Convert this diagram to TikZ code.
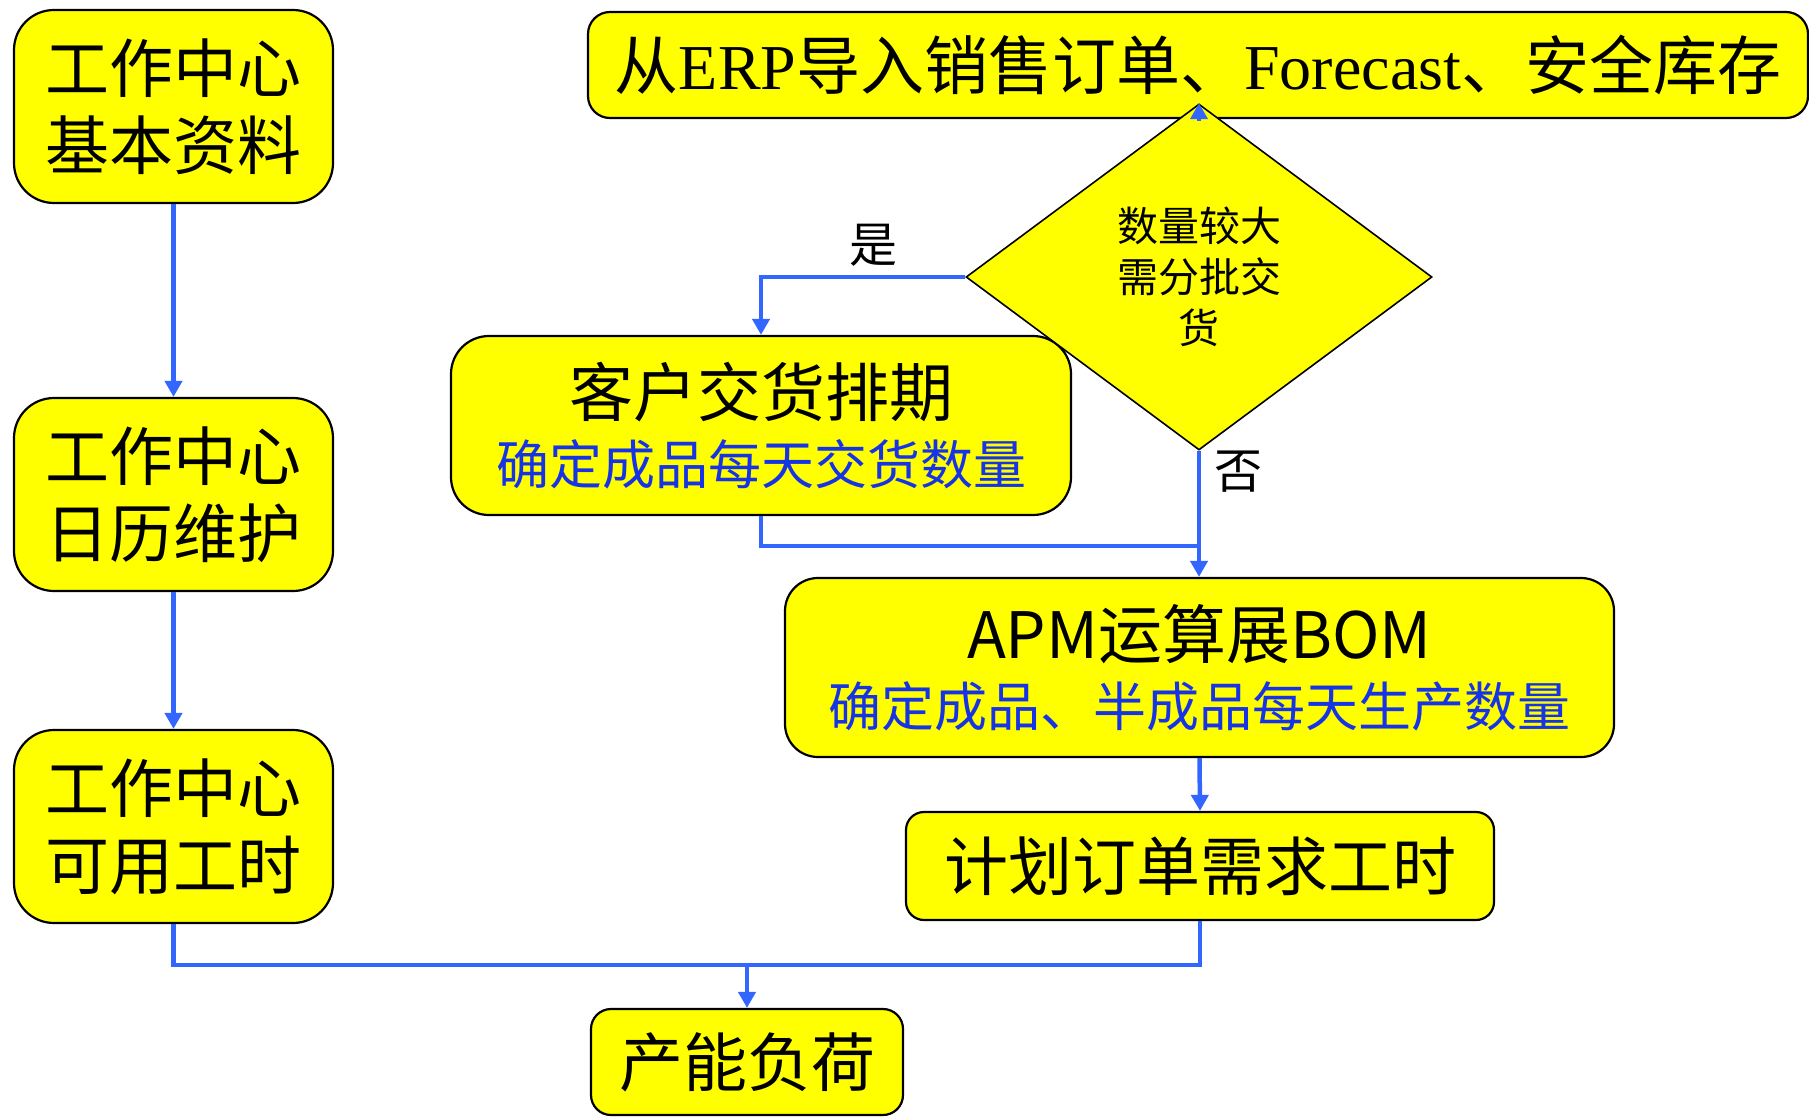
\documentclass[tikz,border=0pt]{standalone}
\usepackage{fontspec}
\setmainfont{Noto Sans CJK SC}
\newfontfamily\serifl{Liberation Serif}
\usetikzlibrary{shapes.geometric,arrows.meta}
\definecolor{boxyellow}{RGB}{255,255,0}
\definecolor{linkblue}{RGB}{51,102,255}
\definecolor{textblue}{RGB}{22,52,230}
\tikzset{
  box/.style={draw=black, line width=2.2pt, fill=boxyellow, rectangle, inner sep=0pt, align=center, text=black},
  bigtxt/.style={font=\fontsize{64}{77}\selectfont},
  link/.style={draw=linkblue, line width=4.5pt},
  arr/.style={link, -{Triangle[length=16pt,width=17pt]}},
  lbl/.style={font=\fontsize{48}{48}\selectfont, inner sep=0pt}
}
\begin{document}
\begin{tikzpicture}[x=1pt,y=-1pt]
\useasboundingbox (0,0) rectangle (1809,1116);
% left column
\node[box,bigtxt,rounded corners=40pt,minimum width=319pt,minimum height=193pt] (A) at (173.5,106.5) {工作中心\\基本资料};
\node[box,bigtxt,rounded corners=40pt,minimum width=319pt,minimum height=193pt] (B) at (173.5,494.5) {工作中心\\日历维护};
\node[box,bigtxt,rounded corners=40pt,minimum width=319pt,minimum height=193pt] (C) at (173.5,826.5) {工作中心\\可用工时};
% top box
\node[box,rounded corners=22pt,minimum width=1220pt,minimum height=106pt,font=\fontsize{64}{64}\selectfont] (top) at (1198,65)
  {从{\serifl ERP}导入销售订单、{\serifl Forecast}、安全库存};
% customer schedule
\node[box,rounded corners=38pt,minimum width=620pt,minimum height=179pt] (D) at (761,425.5)
  {\fontsize{64}{71}\selectfont 客户交货排期\\[17pt]{\fontsize{53}{71}\selectfont\color{textblue}确定成品每天交货数量}};
% APM
\node[box,rounded corners=33pt,minimum width=829pt,minimum height=179pt] (E) at (1199.5,667.5)
  {\fontsize{64}{71}\selectfont APM运算展BOM\\[17pt]{\fontsize{53}{71}\selectfont\color{textblue}确定成品、半成品每天生产数量}};
\node[box,bigtxt,rounded corners=18pt,minimum width=588pt,minimum height=108pt] (F) at (1200,866) {计划订单需求工时};
\node[box,bigtxt,rounded corners=20pt,minimum width=312pt,minimum height=106pt] (G) at (747,1062) {产能负荷};
% decision
\node[diamond,draw=black,line width=1.6pt,fill=boxyellow,inner sep=0pt,minimum width=466pt,minimum height=346pt,align=center,font=\fontsize{41}{51}\selectfont] (dia) at (1199,277) {数量较大\\需分批交\\货};
% connectors
\draw[arr] (A.south) -- (B.north);
\draw[arr] (B.south) -- (C.north);
\draw[arr] (dia.west) -| (D.north);
\draw[arr] (dia.south) -- (E.north -| dia.south);
\coordinate (j1) at (1199,546);
\draw[link] (D.south) |- (j1);
\draw[arr] (E.south) -- (F.north);
\coordinate (j2) at (747,965);
\draw[link] (C.south) |- (j2);
\draw[link] (F.south) |- (j2);
\draw[arr] (j2) -- (G.north);
\coordinate (dtop) at (1199,121);
\draw[arr] (dtop) -- (dia.north);
% labels
\node[lbl] (yes) at (873,245) {是};
\node[lbl] (no) at (1238,472) {否};
\end{tikzpicture}
\end{document}
